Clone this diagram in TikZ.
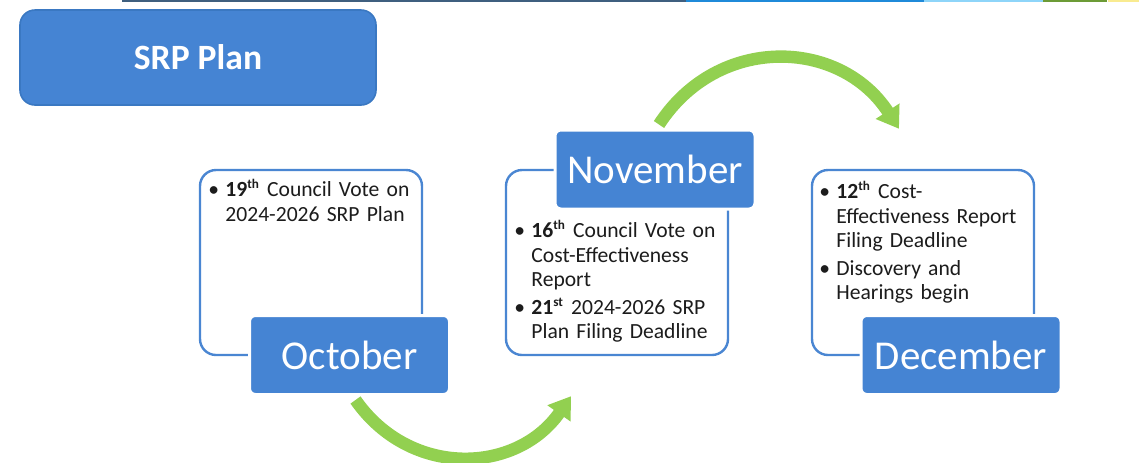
\documentclass[tikz,border=0pt]{standalone}
\usepackage{fontspec}
\setmainfont{Carlito}
\usepackage{tikz}
\usetikzlibrary{arrows.meta}

\definecolor{srpblue}{HTML}{4584D3}
\definecolor{titleline}{HTML}{3A78C2}
\definecolor{boxline}{HTML}{4A86D2}
\definecolor{arrowgreen}{HTML}{92D050}
\definecolor{textdark}{HTML}{1C1C1C}
\definecolor{barslate}{HTML}{3F5F7F}
\definecolor{barblue}{HTML}{1F8AD9}
\definecolor{barsky}{HTML}{8ED5F9}
\definecolor{bargreen}{HTML}{6C9B36}
\definecolor{baryellow}{HTML}{F9EB90}

\tikzstyle{titlebox} = [rectangle, rounded corners=7.5pt, minimum width=178pt, minimum height=47.5pt, fill=srpblue, draw=titleline, line width=0.8pt, text=white, font=\bfseries\fontsize{17.8}{21}\selectfont]
\tikzstyle{infobox} = [rectangle, rounded corners=8pt, minimum width=111pt, minimum height=92.5pt, draw=boxline, line width=1.2pt, fill=white]
\tikzstyle{monthbox} = [rectangle, rounded corners=3pt, minimum width=100pt, minimum height=39.5pt, fill=srpblue, draw=white, line width=1.5pt, text=white, font=\fontsize{20.5}{24}\selectfont]
\tikzstyle{itemtext} = [anchor=north west, inner sep=0pt, text width=125pt, text=textdark, font=\fontsize{10.8}{12.25}\selectfont]
\tikzstyle{greenarrow} = [line width=6.2pt, color=arrowgreen, -{Triangle[width=13.5pt,length=10.5pt]}]

\newcommand{\bulletitem}[1]{\par\hangindent=8.5pt\hangafter=1\noindent\makebox[8.5pt][l]{\textbullet}#1\par\vskip1.5pt}
\newcommand{\daysup}[1]{\textsuperscript{\fontsize{6.6}{7}\selectfont #1}}

\begin{document}
\begin{tikzpicture}[x=0.5pt, y=0.5pt]

   \useasboundingbox (0,0) rectangle (1147,-462);

   % Coloured strip along the top edge
   \fill[barslate] (122,0) rectangle (686,-2);
   \fill[barblue] (686,0) rectangle (924,-2);
   \fill[barsky] (924,0) rectangle (1043,-2);
   \fill[bargreen] (1043,0) rectangle (1107,-2);
   \fill[baryellow] (1108,0) rectangle (1139,-2);

   % Title box
   \node[titlebox] (title) at (198,-57.5) {SRP Plan};

   % White boxes for each month
   \node[infobox] (octbox) at (311,-262.5) {};
   \node[infobox] (novbox) at (617,-262.5) {};
   \node[infobox] (decbox) at (923,-262.5) {};

   % Bullet text inside the boxes
   \node[itemtext] (octtext) at (208,-172) {%
      \bulletitem{\textbf{19\daysup{th}} Council Vote on\newline 2024-2026 SRP Plan}};
   \node[itemtext] (novtext) at (514,-213) {%
      \bulletitem{\textbf{16\daysup{th}} Council Vote on\newline Cost-Effectiveness\newline Report}%
      \bulletitem{\textbf{21\daysup{st}} 2024-2026 SRP\newline Plan Filing Deadline}};
   \node[itemtext] (dectext) at (819,-174) {%
      \bulletitem{\textbf{12\daysup{th}} Cost-\newline Effectiveness Report\newline Filing Deadline}%
      \bulletitem{Discovery and\newline Hearings begin}};

   % Month labels on top of the boxes
   \node[monthbox] (octlabel) at (349.5,-355) {October};
   \node[monthbox] (novlabel) at (655,-169.5) {November};
   \node[monthbox] (declabel) at (961,-355) {December};

   % Ends of the curved arrows
   \coordinate (lowstart) at ([xshift=3pt,yshift=-2pt]octlabel.south);
   \coordinate (lowend) at ([xshift=-23pt,yshift=-20pt]novbox.south);
   \coordinate (highstart) at ([xshift=2pt,yshift=2pt]novlabel.north);
   \coordinate (highend) at ([xshift=-12pt,yshift=20pt]decbox.north);

   % Green arrows between the months
   \draw[greenarrow] (lowstart) to[out=-55, in=-125, looseness=1.13] (lowend);
   \draw[greenarrow] (highstart) to[out=57, in=123, looseness=1.15] (highend);

\end{tikzpicture}
\end{document}
